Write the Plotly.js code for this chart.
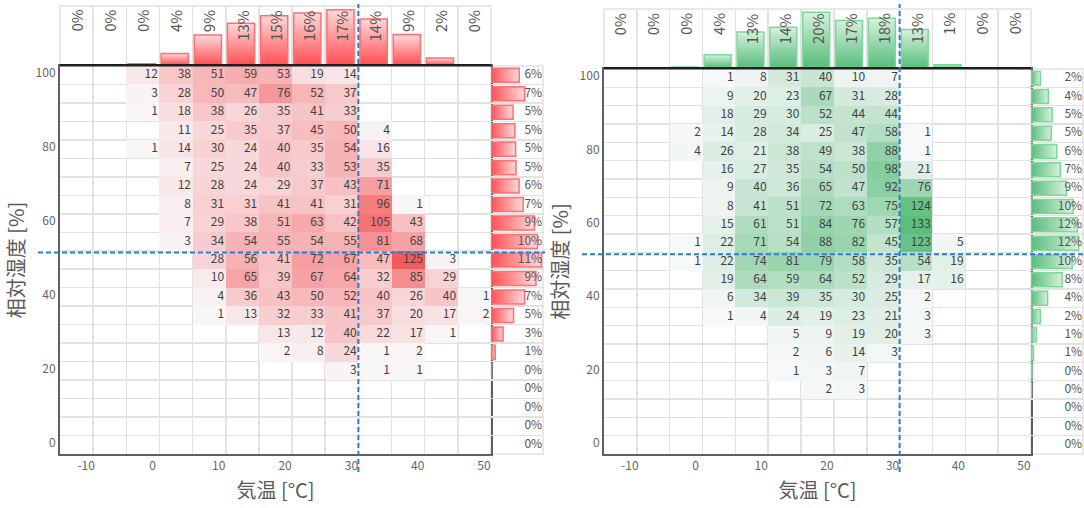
<!DOCTYPE html>
<html>
<head>
<meta charset="utf-8">
<script src="https://cdn.plot.ly/plotly-3.0.1.min.js"></script>
<style>html,body{margin:0;padding:0;background:#fff;}#chart{width:1084px;height:508px;}</style>
</head>
<body>
<div id="chart"></div>
<script>
// ---------------- data ----------------
const tempBins = [-15, -10, -5, 0, 5, 10, 15, 20, 25, 30, 35, 40, 45]; // lower edges (°C), 5 wide
const binW = 5;
const humBins = [100, 95, 90, 85, 80, 75, 70, 65, 60, 55, 50, 45, 40, 35, 30, 25, 20, 15, 10, 5, 0]; // %
const xTickLabels = [-10, 0, 10, 20, 30, 40, 50];
const yTickLabels = [0, 20, 40, 60, 80, 100];

// left panel (red) : rows = humBins, cols = tempBins
const countsLeft = [
  [0,0,12,38,51,59,53,19,14,0,0,0,0],
  [0,0,3,28,50,47,76,52,37,0,0,0,0],
  [0,0,1,18,38,26,35,41,33,0,0,0,0],
  [0,0,0,11,25,35,37,45,50,4,0,0,0],
  [0,0,1,14,30,24,40,35,54,16,0,0,0],
  [0,0,0,7,25,24,40,33,53,35,0,0,0],
  [0,0,0,12,28,24,29,37,43,71,0,0,0],
  [0,0,0,8,31,31,41,41,31,96,1,0,0],
  [0,0,0,7,29,38,51,63,42,105,43,0,0],
  [0,0,0,3,34,54,55,54,55,81,68,0,0],
  [0,0,0,0,28,56,41,72,67,47,125,3,0],
  [0,0,0,0,10,65,39,67,64,32,85,29,0],
  [0,0,0,0,4,36,43,50,52,40,26,40,1],
  [0,0,0,0,1,13,32,33,41,37,20,17,2],
  [0,0,0,0,0,0,13,12,40,22,17,1,0],
  [0,0,0,0,0,0,2,8,24,1,2,0,0],
  [0,0,0,0,0,0,0,0,3,1,1,0,0],
  [0,0,0,0,0,0,0,0,0,0,0,0,0],
  [0,0,0,0,0,0,0,0,0,0,0,0,0],
  [0,0,0,0,0,0,0,0,0,0,0,0,0],
  [0,0,0,0,0,0,0,0,0,0,0,0,0]
];

// right panel (green)
const countsRight = [
  [0,0,0,1,8,31,40,10,7,0,0,0,0],
  [0,0,0,9,20,23,67,31,28,0,0,0,0],
  [0,0,0,18,29,30,52,44,44,0,0,0,0],
  [0,0,2,14,28,34,25,47,58,1,0,0,0],
  [0,0,4,26,21,38,49,38,88,1,0,0,0],
  [0,0,0,16,27,35,54,50,98,21,0,0,0],
  [0,0,0,9,40,36,65,47,92,76,0,0,0],
  [0,0,0,8,41,51,72,63,75,124,0,0,0],
  [0,0,0,15,61,51,84,76,57,133,0,0,0],
  [0,0,1,22,71,54,88,82,45,123,5,0,0],
  [0,0,1,22,74,81,79,58,35,54,19,0,0],
  [0,0,0,19,64,59,64,52,29,17,16,0,0],
  [0,0,0,6,34,39,35,30,25,2,0,0,0],
  [0,0,0,1,4,24,19,23,21,3,0,0,0],
  [0,0,0,0,0,5,9,19,20,3,0,0,0],
  [0,0,0,0,0,2,6,14,3,0,0,0,0],
  [0,0,0,0,0,1,3,7,0,0,0,0,0],
  [0,0,0,0,0,0,2,3,0,0,0,0,0],
  [0,0,0,0,0,0,0,0,0,0,0,0,0],
  [0,0,0,0,0,0,0,0,0,0,0,0,0],
  [0,0,0,0,0,0,0,0,0,0,0,0,0]
];

const refTemp = 30;   // vertical dashed line (°C)
const refHum = 52;    // horizontal dashed line (%)

// ---------------- styling / layout ----------------
const W = 1084, H = 508;
const FONT = '"Noto Sans CJK JP", "Noto Sans", sans-serif';
const GRID = '#e2e2e2';
const BLUE = '#2a7bd2';
const px = v => v / W;
const py = v => 1 - v / H;

const panels = [
  {
    counts: countsLeft,
    ax: { x: 'x', y: 'y', top: 'y2', side: 'x2' },
    heatX: [60, 491], heatY: [66, 454], topY: [6, 65], sideX: [491, 544],
    topPad: 1.07, sidePad: 1.05, hLineX: [38, 545],
    low: 'rgb(249,247,249)', high: 'rgb(243,90,92)',
    barDark: '#ff4f52', barLight: '#ffdadc', barLine: '#ff6e70'
  },
  {
    counts: countsRight,
    ax: { x: 'x3', y: 'y3', top: 'y4', side: 'x4' },
    heatX: [604, 1031], heatY: [69, 454], topY: [9, 67.5], sideX: [1031, 1084],
    topPad: 1.06, sidePad: 1.11, hLineX: [582, 1084],
    low: 'rgb(248,248,250)', high: 'rgb(92,189,124)',
    barDark: '#58bd7b', barLight: '#d6f1de', barLine: '#7cd898'
  }
];

const traces = [];
const annotations = [];
const shapes = [];
const layout = {
  width: W, height: H,
  margin: { l: 0, r: 0, t: 0, b: 0 },
  paper_bgcolor: '#ffffff', plot_bgcolor: '#ffffff',
  showlegend: false,
  font: { family: FONT, color: '#555' },
  annotations, shapes
};

function axName(a) { return a.replace(/^x$/, 'xaxis').replace(/^y$/, 'yaxis').replace(/^x(\d+)$/, 'xaxis$1').replace(/^y(\d+)$/, 'yaxis$1'); }

panels.forEach(p => {
  const A = p.ax;
  const colTot = tempBins.map((_, j) => p.counts.reduce((s, r) => s + r[j], 0));
  const rowTot = p.counts.map(r => r.reduce((s, v) => s + v, 0));
  const total = rowTot.reduce((s, v) => s + v, 0);
  const colPct = colTot.map(v => 100 * v / total);
  const rowPct = rowTot.map(v => 100 * v / total);
  const zmax = Math.max(...p.counts.flat());
  const topMax = Math.max(...colPct) * p.topPad;
  const sideMax = Math.max(...rowPct) * p.sidePad;

  // heatmap
  traces.push({
    type: 'heatmap',
    x: tempBins.map(t => t + binW / 2), y: humBins,
    z: p.counts.map(r => r.map(v => (v > 0 ? v : null))),
    colorscale: [[0, p.low], [1, p.high]], zmin: 0, zmax: zmax,
    showscale: false, hoverinfo: 'skip', xaxis: A.x, yaxis: A.y
  });

  // cell numbers, right aligned in each cell
  const tx = [], ty = [], tt = [];
  p.counts.forEach((r, i) => r.forEach((v, j) => {
    if (v > 0) { tx.push(tempBins[j] + binW - 0.25); ty.push(humBins[i]); tt.push(String(v)); }
  }));
  traces.push({
    type: 'scatter', mode: 'text', x: tx, y: ty, text: tt, textposition: 'middle left',
    textfont: { family: FONT, size: 12, color: '#424242' },
    hoverinfo: 'skip', xaxis: A.x, yaxis: A.y
  });

  // top marginal bars + labels
  colPct.forEach((v, j) => {
    if (v > 0) {
      const x0 = tempBins[j] + binW * 0.05, x1 = tempBins[j] + binW * 0.87;
      traces.push({
        type: 'scatter', mode: 'lines',
        x: [x0, x0, x1, x1, x0], y: [0, v, v, 0, 0],
        fill: 'toself',
        fillgradient: { type: 'vertical', start: 0, stop: v, colorscale: [[0, p.barDark], [1, p.barLight]] },
        line: { color: p.barLine, width: 1.5 },
        hoverinfo: 'skip', xaxis: A.x, yaxis: A.top
      });
    }
    annotations.push({
      xref: A.x, yref: A.top + ' domain', x: tempBins[j] + binW / 2, y: 1,
      xanchor: 'center', yanchor: 'top', yshift: -2, textangle: -90, showarrow: false,
      text: Math.round(v) + '%', font: { family: FONT, size: 15, color: '#555' }
    });
  });

  // side marginal bars
  rowPct.forEach((v, i) => {
    if (v <= 0) return;
    const y0 = humBins[i] - 1.9, y1 = humBins[i] + 1.9;
    traces.push({
      type: 'scatter', mode: 'lines',
      x: [0, v, v, 0, 0], y: [y0, y0, y1, y1, y0],
      fill: 'toself',
      fillgradient: { type: 'horizontal', start: 0, stop: v, colorscale: [[0, p.barDark], [1, p.barLight]] },
      line: { color: p.barLine, width: 1.5 },
      hoverinfo: 'skip', xaxis: A.side, yaxis: A.y
    });
  });
  traces.push({
    type: 'scatter', mode: 'text',
    x: rowPct.map(() => sideMax * 0.965), y: humBins,
    text: rowPct.map(v => Math.round(v) + '%'), textposition: 'middle left',
    textfont: { family: FONT, size: 12, color: '#555' },
    hoverinfo: 'skip', xaxis: A.side, yaxis: A.y
  });

  // axes
  layout[axName(A.x)] = {
    domain: [px(p.heatX[0]), px(p.heatX[1])], anchor: A.y,
    range: [tempBins[0], tempBins[tempBins.length - 1] + binW],
    tickmode: 'array', tickvals: xTickLabels, ticktext: xTickLabels.map(String),
    ticks: '', showgrid: true, gridcolor: GRID, gridwidth: 1.5,
    minor: { tickmode: 'linear', tick0: tempBins[0], dtick: binW, showgrid: true, gridcolor: GRID, gridwidth: 1.5, ticks: '' },
    zeroline: false, showline: true, linecolor: '#606060', linewidth: 2, mirror: true,
    tickfont: { family: FONT, size: 12, color: '#666' }, ticklabelshift: -7,
    title: { text: '気温 [°C]', font: { family: FONT, size: 20, color: '#595959' }, standoff: 12 },
    fixedrange: true
  };
  layout[axName(A.y)] = {
    domain: [py(p.heatY[1]), py(p.heatY[0])], anchor: A.x,
    range: [humBins[humBins.length - 1] - 2.5, humBins[0] + 2.5],
    tickmode: 'linear', tick0: yTickLabels[0], dtick: yTickLabels[1] - yTickLabels[0],
    ticks: '', showgrid: false,
    minor: { tick0: 2.5, dtick: 5, showgrid: true, gridcolor: GRID, gridwidth: 1.5, ticks: '' },
    zeroline: false, showline: true, linecolor: '#606060', linewidth: 2, mirror: true,
    tickfont: { family: FONT, size: 12, color: '#666' }, ticklabelshift: -2,
    title: { text: '相対湿度 [%]', font: { family: FONT, size: 20, color: '#595959' }, standoff: 6 },
    fixedrange: true
  };
  layout[axName(A.top)] = {
    domain: [py(p.topY[1]), py(p.topY[0])], anchor: A.x,
    range: [0, topMax], visible: false, fixedrange: true
  };
  layout[axName(A.side)] = {
    domain: [px(p.sideX[0]), px(p.sideX[1])], anchor: A.y,
    range: [0, sideMax], visible: false, fixedrange: true
  };

  // frames
  shapes.push({ type: 'rect', layer: 'below', xref: 'paper', yref: 'paper',
    x0: px(p.heatX[0]), x1: px(p.heatX[1]), y0: py(p.topY[1]), y1: py(p.topY[0]),
    line: { color: GRID, width: 1.5 } });
  shapes.push({ type: 'rect', layer: 'below', xref: 'paper', yref: 'paper',
    x0: px(p.sideX[0]), x1: px(p.sideX[1]) - 0.001, y0: py(p.heatY[1]), y1: py(p.heatY[0]),
    line: { color: GRID, width: 1.5 } });
  shapes.push({ type: 'line', xref: 'paper', yref: 'paper',
    x0: px(p.heatX[0]), x1: px(p.heatX[1]), y0: py(p.heatY[0] - 0.8), y1: py(p.heatY[0] - 0.8),
    line: { color: '#1e1e1e', width: 2.5 } });
  // reference dashed lines
  shapes.push({ type: 'line', xref: A.x, yref: 'paper', x0: refTemp, x1: refTemp, y0: py(472), y1: py(4),
    line: { color: BLUE, width: 2, dash: '5px,3px' } });
  shapes.push({ type: 'line', xref: 'paper', yref: A.y, x0: px(p.hLineX[0]), x1: px(p.hLineX[1]), y0: refHum, y1: refHum,
    line: { color: BLUE, width: 2, dash: '5px,3px' } });
});

Plotly.newPlot('chart', traces, layout, { displayModeBar: false, staticPlot: true });
</script>
</body>
</html>
